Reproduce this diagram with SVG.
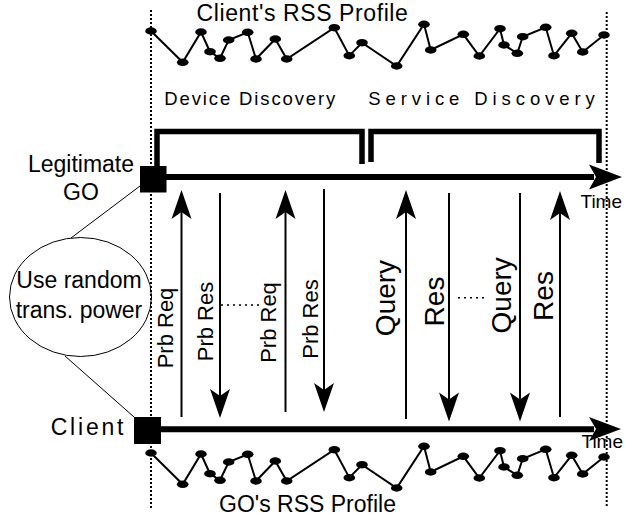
<svg xmlns="http://www.w3.org/2000/svg" xmlns:xlink="http://www.w3.org/1999/xlink" width="626" height="522" viewBox="0 0 626 522">
  <style>
    text { font-family: "Liberation Sans", Arial, sans-serif; fill: #000; }
    .lbl { font-size: 23px; }
    .phase { font-size: 18.5px; }
    .msg { font-size: 22px; text-anchor: middle; }
    .msg-big { font-size: 28px; text-anchor: middle; }
    .time { font-size: 19px; }
    .guide { stroke: #000; stroke-width: 2; stroke-dasharray: 2 2; fill: none; }
    .axis { stroke: #000; stroke-width: 6; fill: none; }
    .bracket { stroke: #000; stroke-width: 5.5; fill: none; }
    .msgline { stroke: #000; stroke-width: 2; fill: none; }
    .thin { stroke: #000; stroke-width: 1; fill: none; }
    .dots { stroke: #000; stroke-width: 1.5; stroke-dasharray: 2 4; fill: none; }
    .rss line, .rss polyline { stroke: #000; stroke-width: 2; fill: none; }
    .rss ellipse { fill: #000; }
  </style>
  <defs>
    <marker id="head" viewBox="-30 -11 32 22" markerWidth="32" markerHeight="22" refX="-22" refY="0" orient="auto" markerUnits="userSpaceOnUse">
      <path d="M0,0 L-29,-10 L-22,0 L-29,10 Z" fill="#000"/>
    </marker>
    <g id="profile" class="rss">
      <polyline points="151,31 182.7,62.3 201,32 210,51.7 220,58.3 228.7,40 247.7,32.3 256,59 275.3,39 286.7,59 334.3,27.7 349.3,55.7 362,42.7 396.7,66 424,24.3 430.7,50 463.3,34.3 479.3,56 500,28.7 504,45 517.3,53.3 522.7,36.7 545.7,27.3 554,55.7 571.7,33.3 582.7,52 604,35"/>
      <g>
        <ellipse cx="151" cy="31" rx="5.8" ry="3.7"/>
        <ellipse cx="182.7" cy="62.3" rx="5.8" ry="3.7"/>
        <ellipse cx="201" cy="32" rx="5.8" ry="3.7"/>
        <ellipse cx="210" cy="51.7" rx="5.8" ry="3.7"/>
        <ellipse cx="220" cy="58.3" rx="5.8" ry="3.7"/>
        <ellipse cx="228.7" cy="40" rx="5.8" ry="3.7"/>
        <ellipse cx="247.7" cy="32.3" rx="5.8" ry="3.7"/>
        <ellipse cx="256" cy="59" rx="5.8" ry="3.7"/>
        <ellipse cx="275.3" cy="39" rx="5.8" ry="3.7"/>
        <ellipse cx="286.7" cy="59" rx="5.8" ry="3.7"/>
        <ellipse cx="334.3" cy="27.7" rx="5.8" ry="3.7"/>
        <ellipse cx="349.3" cy="55.7" rx="5.8" ry="3.7"/>
        <ellipse cx="362" cy="42.7" rx="5.8" ry="3.7"/>
        <ellipse cx="396.7" cy="66" rx="5.8" ry="3.7"/>
        <ellipse cx="424" cy="24.3" rx="5.8" ry="3.7"/>
        <ellipse cx="430.7" cy="50" rx="5.8" ry="3.7"/>
        <ellipse cx="463.3" cy="34.3" rx="5.8" ry="3.7"/>
        <ellipse cx="479.3" cy="56" rx="5.8" ry="3.7"/>
        <ellipse cx="500" cy="28.7" rx="5.8" ry="3.7"/>
        <ellipse cx="504" cy="45" rx="5.8" ry="3.7"/>
        <ellipse cx="517.3" cy="53.3" rx="5.8" ry="3.7"/>
        <ellipse cx="522.7" cy="36.7" rx="5.8" ry="3.7"/>
        <ellipse cx="545.7" cy="27.3" rx="5.8" ry="3.7"/>
        <ellipse cx="554" cy="55.7" rx="5.8" ry="3.7"/>
        <ellipse cx="571.7" cy="33.3" rx="5.8" ry="3.7"/>
        <ellipse cx="582.7" cy="52" rx="5.8" ry="3.7"/>
        <ellipse cx="604" cy="35" rx="5.8" ry="3.7"/>
      </g>
    </g>
  </defs>

  <!-- time boundaries -->
  <g id="guides">
    <line class="guide" x1="151" y1="10" x2="151" y2="510"/>
    <line class="guide" x1="606.7" y1="12" x2="606.7" y2="507"/>
  </g>

  <!-- received signal strength profiles -->
  <g id="client-rss">
    <use xlink:href="#profile"/>
    <text class="lbl" x="302.5" y="20.5" font-size="22" text-anchor="middle" letter-spacing="0.6">Client's RSS Profile</text>
  </g>
  <g id="go-rss">
    <use xlink:href="#profile" transform="translate(0,422)"/>
    <text class="lbl" x="307.5" y="511.5" text-anchor="middle">GO's RSS Profile</text>
  </g>

  <!-- discovery phases -->
  <g id="device-discovery">
    <path class="bracket" d="M157,166 V131.5 H362 V164"/>
    <text class="phase" x="164.3" y="105" letter-spacing="1.87">Device Discovery</text>
  </g>
  <g id="service-discovery">
    <path class="bracket" d="M371,162 V131.5 H599 V163"/>
    <text class="phase" x="368.3" y="105" letter-spacing="4.9">Service Discovery</text>
  </g>

  <!-- participants -->
  <g id="legitimate-go">
    <rect x="140" y="166" width="26.5" height="26.5" fill="#000"/>
    <text class="lbl" x="81" y="171.5" text-anchor="middle">Legitimate</text>
    <text class="lbl" x="81" y="200" text-anchor="middle">GO</text>
  </g>
  <g id="client">
    <rect x="134" y="417" width="27" height="27" fill="#000"/>
    <text class="lbl" x="50.7" y="435" font-size="21" letter-spacing="2.8">Client</text>
  </g>
  <g id="random-power">
    <ellipse class="thin" cx="80.5" cy="297" rx="71" ry="59.5" fill="#fff"/>
    <text class="lbl" x="79" y="288.3" text-anchor="middle">Use random</text>
    <text class="lbl" x="79" y="318.3" text-anchor="middle">trans. power</text>
  </g>

  <!-- time axes -->
  <g id="go-timeline">
    <line class="axis" x1="166" y1="177" x2="594" y2="177"/>
    <path d="M622,177 L589,164.5 L596,177 L589,189.5 Z" fill="#000"/>
    <text class="time" x="580.5" y="208.3">Time</text>
  </g>
  <g id="client-timeline">
    <line class="axis" x1="161" y1="429.3" x2="594" y2="429.3"/>
    <path d="M621,429 L589,417 L596,429 L589,441 Z" fill="#000"/>
    <text class="time" x="581.5" y="448.3">Time</text>
  </g>

  <!-- message exchanges -->
  <g id="connectors">
    <line class="thin" x1="140" y1="186" x2="71" y2="238"/>
    <line class="thin" x1="65" y1="356" x2="134" y2="417"/>

    <line class="msgline" x1="181.5" y1="417" x2="181.5" y2="212" marker-end="url(#head)"/>
    <line class="msgline" x1="220" y1="193" x2="220" y2="396" marker-end="url(#head)"/>
    <line class="msgline" x1="285.5" y1="412" x2="285.5" y2="212" marker-end="url(#head)"/>
    <line class="msgline" x1="324" y1="189" x2="324" y2="390" marker-end="url(#head)"/>
    <line class="msgline" x1="406" y1="419" x2="406" y2="212" marker-end="url(#head)"/>
    <line class="msgline" x1="449" y1="193" x2="449" y2="399.5" marker-end="url(#head)"/>
    <line class="msgline" x1="520" y1="193" x2="520" y2="399.5" marker-end="url(#head)"/>
    <line class="msgline" x1="560" y1="417" x2="560" y2="213" marker-end="url(#head)"/>

    <line class="dots" x1="221" y1="305" x2="263" y2="305"/>
    <line class="dots" x1="458" y1="297.7" x2="486" y2="297.7"/>
  </g>

  <g id="labels">
    <text class="msg" transform="translate(172.5,328) rotate(-90)">Prb Req</text>
    <text class="msg" transform="translate(212.8,321.5) rotate(-90)">Prb Res</text>
    <text class="msg" transform="translate(275.7,322.5) rotate(-90)">Prb Req</text>
    <text class="msg" transform="translate(317.5,319) rotate(-90)">Prb Res</text>
    <text class="msg-big" transform="translate(395,298) rotate(-90)">Query</text>
    <text class="msg-big" transform="translate(444,301.5) rotate(-90)">Res</text>
    <text class="msg-big" transform="translate(510.7,295.3) rotate(-90)">Query</text>
    <text class="msg-big" transform="translate(553.3,296) rotate(-90)">Res</text>
  </g>
</svg>
